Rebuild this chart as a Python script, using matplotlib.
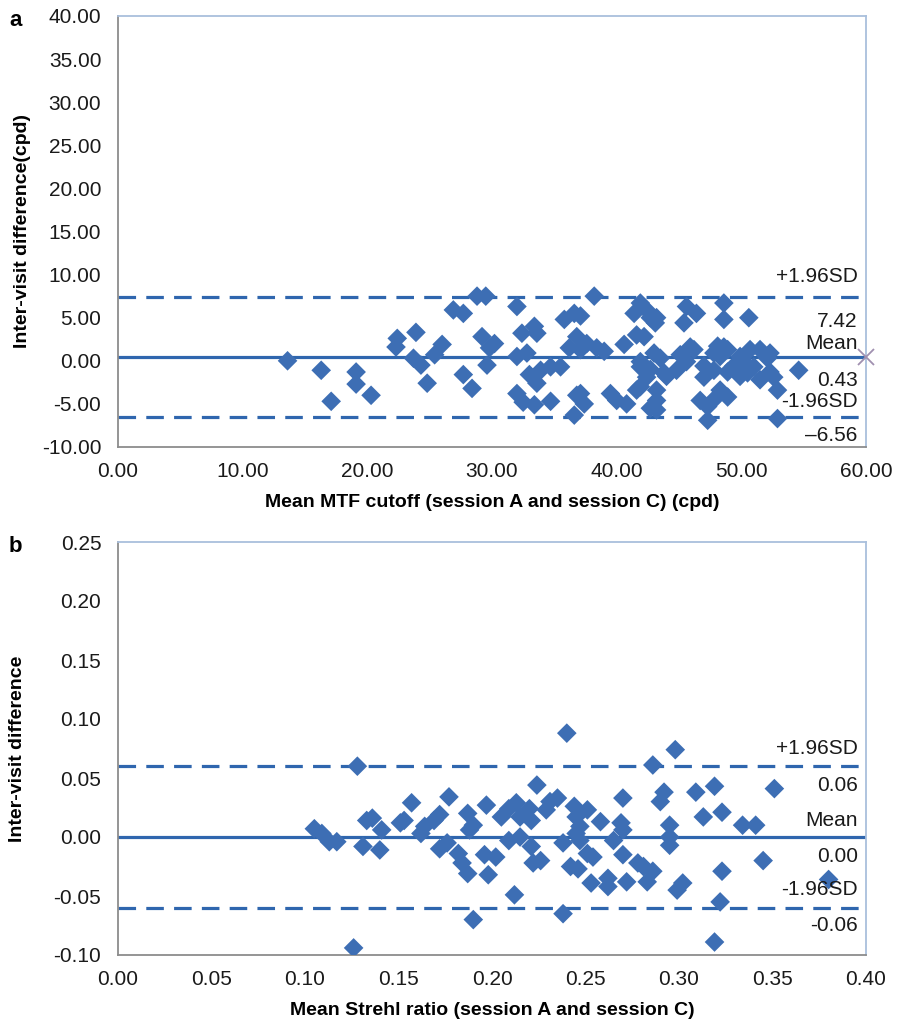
import matplotlib
matplotlib.use("Agg")
import matplotlib.pyplot as plt
import numpy as np

plt.rcParams['font.family'] = ['Liberation Sans', 'DejaVu Sans']
plt.rcParams['axes.unicode_minus'] = False

# ---------------- data: panel a ----------------
a_x = [13.6, 16.3, 17.1, 19.1, 19.1, 20.3, 22.4, 22.3, 23.9, 23.7, 24.3, 24.8, 25.4, 26.0,
       28.8, 29.5, 26.9, 27.7, 32.0, 29.2, 30.2, 29.8, 29.6, 32.0, 32.8, 32.4, 33.4, 33.6,
       27.7, 28.4, 32.0, 33.0, 33.6, 33.9, 34.7, 35.5, 33.4, 34.7, 35.8, 36.6, 37.1, 36.8,
       36.2, 37.1, 37.1, 37.4, 36.6, 38.2, 41.4, 42.4, 42.7, 43.2, 45.6, 46.4, 48.6, 48.6,
       41.6, 42.2, 40.6, 37.6, 38.4, 43.0, 43.5, 45.9, 45.1, 47.8, 48.6, 41.9, 42.4, 43.8,
       44.8, 41.9, 41.6, 39.5, 40.0, 40.8, 43.2, 43.2, 46.7, 47.3, 47.3, 48.3, 47.0, 47.8,
       50.6, 48.9, 49.9, 51.5, 52.3, 51.0, 50.5, 51.5, 52.6, 54.6, 52.9, 48.9, 52.9,
       41.9, 45.6, 50.2, 52.1, 52.3, 48.9, 32.5, 36.8, 42.7,
       41.9, 43.1, 45.4, 39.0, 46.2, 47.0, 48.1, 48.3, 49.4, 50.7, 49.9, 44.0, 42.7, 43.2, 47.8]
a_y = [0.0, -1.1, -4.7, -1.3, -2.7, -4.0, 2.6, 1.6, 3.3, 0.3, -0.5, -2.6, 0.7, 1.9,
       7.5, 7.5, 5.9, 5.5, 6.3, 2.8, 2.0, 1.5, -0.5, 0.5, 0.9, 3.2, 4.0, 3.2,
       -1.6, -3.2, -3.8, -1.6, -2.6, -1.1, -0.7, -0.7, -5.1, -4.7, 4.8, 5.5, 5.2, 2.8,
       1.5, 1.3, -3.8, -5.0, -6.3, 7.5, 5.5, 5.9, 5.0, 5.0, 6.3, 5.5, 6.7, 4.8,
       3.0, 2.8, 1.9, 2.0, 1.5, 0.9, 0.3, 1.6, 0.7, 0.9, 1.6, -0.7, -1.9, -1.4,
       -1.1, -3.0, -3.4, -3.8, -4.6, -5.0, -4.6, -5.7, -4.6, -5.3, -6.9, -3.4, -1.9, -1.1,
       5.0, 1.3, 0.5, 1.3, 0.9, -0.7, -1.4, -2.2, -1.9, -1.1, -3.4, -4.2, -6.7,
       -0.1, -0.1, -0.1, 0.3, -1.3, -1.3, -4.8, -4.0, -5.5,
       6.7, 4.4, 4.4, 1.1, 1.3, -0.6, 1.7, 0.5, -0.6, 1.3, -1.8, -1.8, -1.0, -3.4, -4.5]
a_mean, a_upper, a_lower = 0.43, 7.42, -6.56
a_labels = ["+1.96SD", "7.42", "Mean", "0.43", "-1.96SD", "\u20136.56"]

# ---------------- data: panel b ----------------
b_x = [0.128, 0.105, 0.109, 0.113, 0.117, 0.131, 0.133, 0.136, 0.140, 0.141, 0.151, 0.153,
       0.157, 0.162, 0.164, 0.169, 0.172, 0.177, 0.172, 0.176, 0.182, 0.184, 0.187, 0.187,
       0.190, 0.188, 0.197, 0.196, 0.202, 0.198, 0.190, 0.126,
       0.240, 0.298, 0.286, 0.224, 0.270, 0.292, 0.290, 0.309, 0.319, 0.351, 0.313, 0.323,
       0.334, 0.341, 0.345, 0.323, 0.380, 0.322, 0.319, 0.238, 0.212, 0.295, 0.295, 0.295,
       0.205, 0.209, 0.213, 0.215, 0.220, 0.221, 0.229, 0.235, 0.231, 0.244, 0.245, 0.251,
       0.247, 0.258, 0.269, 0.270, 0.209, 0.215, 0.221, 0.238, 0.245, 0.247, 0.265,
       0.222, 0.226, 0.242, 0.246, 0.251, 0.254, 0.253, 0.262, 0.262, 0.272, 0.270, 0.278,
       0.281, 0.286, 0.283, 0.302, 0.299]
b_y = [0.060, 0.007, 0.003, -0.004, -0.004, -0.008, 0.014, 0.016, -0.011, 0.006, 0.012, 0.014,
       0.029, 0.003, 0.009, 0.014, 0.019, 0.034, -0.010, -0.005, -0.014, -0.022, -0.031, 0.020,
       0.010, 0.006, 0.027, -0.015, -0.017, -0.032, -0.070, -0.094,
       0.088, 0.074, 0.061, 0.044, 0.033, 0.038, 0.030, 0.038, 0.043, 0.041, 0.017, 0.021,
       0.010, 0.010, -0.020, -0.029, -0.036, -0.055, -0.089, -0.065, -0.049, 0.010, 0.000, -0.007,
       0.017, 0.024, 0.029, 0.017, 0.024, 0.014, 0.023, 0.033, 0.030, 0.026, 0.017, 0.023,
       0.009, 0.013, 0.012, 0.006, -0.003, 0.000, -0.008, -0.005, 0.003, -0.003, -0.003,
       -0.022, -0.020, -0.025, -0.027, -0.014, -0.017, -0.039, -0.035, -0.042, -0.038, -0.015, -0.022,
       -0.025, -0.029, -0.038, -0.039, -0.045]
b_mean, b_upper, b_lower = 0.00, 0.06, -0.06
b_labels = ["+1.96SD", "0.06", "Mean", "0.00", "-1.96SD", "-0.06"]

BLUE = '#3d6eb4'
LINE = '#2f66ae'
W, H = 897, 1019
fig = plt.figure(figsize=(W / 100, H / 100), dpi=100)


def px_axes(left, top, right, bottom):
    return fig.add_axes([left / W, 1 - bottom / H, (right - left) / W, (bottom - top) / H])


def style(ax):
    for s in ['left', 'bottom']:
        ax.spines[s].set_color('#8c8c8c')
        ax.spines[s].set_linewidth(1.3)
    for s in ['top', 'right']:
        ax.spines[s].set_color('#a9bfdc')
        ax.spines[s].set_linewidth(1.3)
    ax.tick_params(length=0, labelsize=15, colors='#1a1a1a')
    ax.tick_params(axis='y', pad=12)
    ax.tick_params(axis='x', pad=11)


def draw(ax, xs, ys, mean, up, lo, labels, offs):
    ax.axhline(mean, color=LINE, lw=2.3, zorder=2)
    ax.axhline(up, color=LINE, lw=2.3, ls=(0, (5.5, 3.2)), zorder=2)
    ax.axhline(lo, color=LINE, lw=2.3, ls=(0, (5.5, 3.2)), zorder=2)
    ax.scatter(xs, ys, marker='D', s=100, color=BLUE, edgecolors='none', zorder=3)
    vals = [up, up, mean, mean, lo, lo]
    for lab, v, o in zip(labels, vals, offs):
        ax.annotate(lab, xy=(0.989, v), xycoords=('axes fraction', 'data'),
                    xytext=(0, o * 0.72), textcoords='offset points',
                    ha='right', va='center', fontsize=15, color='#1a1a1a', zorder=4)


# panel a
ax1 = px_axes(118, 16, 866, 447)
style(ax1)
draw(ax1, a_x, a_y, a_mean, a_upper, a_lower, a_labels, [20, -25, 14, -23, 16, -18])
ax1.plot([60], [a_mean], marker='x', ms=12, mew=1.3, color='#a090b0', clip_on=False, zorder=5)
ax1.set_xlim(0, 60)
ax1.set_ylim(-10, 40)
ax1.set_xticks(np.arange(0, 61, 10))
ax1.set_yticks(np.arange(-10, 41, 5))
ax1.xaxis.set_major_formatter(matplotlib.ticker.FormatStrFormatter('%.2f'))
ax1.yaxis.set_major_formatter(matplotlib.ticker.FormatStrFormatter('%.2f'))
ax1.set_xlabel('Mean MTF cutoff (session A and session C) (cpd)', fontsize=14, fontweight='bold', labelpad=9)
ax1.set_ylabel('Inter-visit difference(cpd)', fontsize=14, fontweight='bold', labelpad=8)

# panel b
ax2 = px_axes(118, 542, 866, 955)
style(ax2)
draw(ax2, b_x, b_y, b_mean, b_upper, b_lower, b_labels, [18, -19, 17, -20, 18, -18])
ax2.set_xlim(0, 0.40)
ax2.set_ylim(-0.10, 0.25)
ax2.set_xticks(np.round(np.arange(0, 0.401, 0.05), 2))
ax2.set_yticks(np.round(np.arange(-0.10, 0.251, 0.05), 2))
ax2.xaxis.set_major_formatter(matplotlib.ticker.FormatStrFormatter('%.2f'))
ax2.yaxis.set_major_formatter(matplotlib.ticker.FormatStrFormatter('%.2f'))
ax2.set_xlabel('Mean Strehl ratio (session A and session C)', fontsize=14, fontweight='bold', labelpad=9)
ax2.set_ylabel('Inter-visit difference', fontsize=14, fontweight='bold', labelpad=20)

fig.text(16 / W, 1 - 20 / H, 'a', fontsize=16, fontweight='bold', ha='center', va='center')
fig.text(15 / W, 1 - 547 / H, 'b', fontsize=16, fontweight='bold', ha='center', va='center')

fig.savefig('out.png', dpi=100)
